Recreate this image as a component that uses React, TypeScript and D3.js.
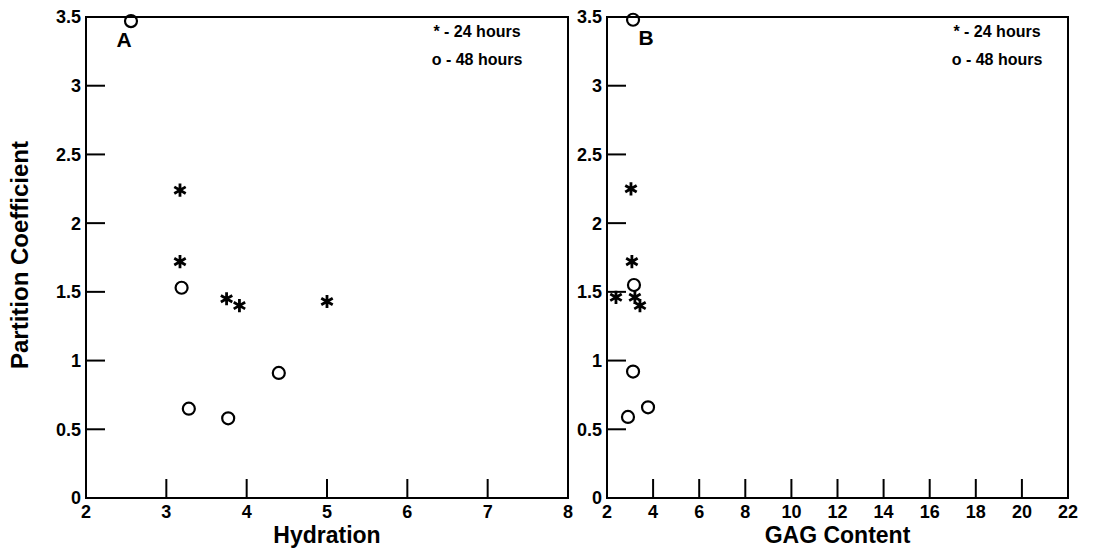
import React from "react";
import * as d3 from "d3";

// Panel A: Hydration vs Partition Coefficient
const hydration24 = [3.17, 3.17, 3.75, 3.91, 5.0];
const partition24A = [2.24, 1.72, 1.45, 1.40, 1.43];
const hydration48 = [2.56, 3.19, 3.28, 3.77, 4.4];
const partition48A = [3.47, 1.53, 0.65, 0.58, 0.91];

// Panel B: GAG Content vs Partition Coefficient
const gag24 = [3.04, 3.08, 2.39, 3.21, 3.43];
const partition24B = [2.25, 1.72, 1.46, 1.46, 1.40];
const gag48 = [3.13, 3.17, 3.13, 2.91, 3.78];
const partition48B = [3.48, 1.55, 0.92, 0.59, 0.66];

const yTicks = [0, 0.5, 1, 1.5, 2, 2.5, 3, 3.5];
const yTickLabels = ["0", "0.5", "1", "1.5", "2", "2.5", "3", "3.5"];
const xTicksA = [2, 3, 4, 5, 6, 7, 8];
const xTicksB = [2, 4, 6, 8, 10, 12, 14, 16, 18, 20, 22];

const legend24 = "* - 24 hours";
const legend48 = "o - 48 hours";
const yTitle = "Partition Coefficient";

const FONT = "'Liberation Sans', Arial, Helvetica, sans-serif";

const y = d3.scaleLinear().domain([0, 3.5]).range([498, 17]);

function Star({ cx, cy }: { cx: number; cy: number }) {
  const r = 6.6;
  const c = Math.cos(Math.PI / 6) * r;
  const s = Math.sin(Math.PI / 6) * r;
  const d = `M${cx},${cy - r}L${cx},${cy + r}M${cx - c},${cy - s}L${cx + c},${cy + s}M${cx - c},${cy + s}L${cx + c},${cy - s}`;
  return <path d={d} stroke="#000" strokeWidth={2.8} fill="none" />;
}

function Panel({
  xDomain, xRange, xTicks, title, letter, x24, y24, x48, y48, legendX, letterX, letterY,
}: any) {
  const x = d3.scaleLinear().domain(xDomain).range(xRange);
  const [x0, x1] = xRange;
  const yb = y(0);
  const yt = y(3.5);
  const tickLen = 19;
  return (
    <g>
      <rect x={x0} y={yt} width={x1 - x0} height={yb - yt} fill="none" stroke="#000" strokeWidth={2} />
      {yTicks.slice(1, -1).map((t) => (
        <line key={"yt" + t} x1={x0} x2={x0 + tickLen} y1={y(t)} y2={y(t)} stroke="#000" strokeWidth={2} />
      ))}
      {yTicks.map((t, i) => (
        <text key={"yl" + t} x={x0 - 5} y={y(t)} dy="0.36em" textAnchor="end" fontSize={18} fontWeight="bold" fontFamily={FONT}>
          {yTickLabels[i]}
        </text>
      ))}
      {xTicks.slice(1, -1).map((t: number) => (
        <line key={"xt" + t} x1={x(t)} x2={x(t)} y1={yb} y2={yb - tickLen} stroke="#000" strokeWidth={2} />
      ))}
      {xTicks.map((t: number) => (
        <text key={"xl" + t} x={x(t)} y={518} textAnchor="middle" fontSize={18} fontWeight="bold" fontFamily={FONT}>
          {t}
        </text>
      ))}
      <text x={(x0 + x1) / 2} y={543} textAnchor="middle" fontSize={23} fontWeight="bold" fontFamily={FONT}>
        {title}
      </text>
      <text x={letterX} y={letterY} textAnchor="middle" fontSize={21} fontWeight="bold" fontFamily={FONT}>
        {letter}
      </text>
      <text x={legendX} y={37} textAnchor="middle" fontSize={16} fontWeight="bold" fontFamily={FONT}>
        {legend24}
      </text>
      <text x={legendX} y={65} textAnchor="middle" fontSize={16} fontWeight="bold" fontFamily={FONT}>
        {legend48}
      </text>
      {x24.map((v: number, i: number) => (
        <Star key={"s" + i} cx={x(v)} cy={y(y24[i])} />
      ))}
      {x48.map((v: number, i: number) => (
        <circle key={"c" + i} cx={x(v)} cy={y(y48[i])} r={6} fill="none" stroke="#000" strokeWidth={2.2} />
      ))}
    </g>
  );
}

export default function App() {
  return (
    <svg width={1105} height={550} style={{ position: "absolute", left: 0, top: 0, background: "#fff" }}>
      <rect x={0} y={0} width={1105} height={550} fill="#fff" />
      <text transform="translate(28,255) rotate(-90)" textAnchor="middle" fontSize={24} fontWeight="bold" fontFamily={FONT}>
        {yTitle}
      </text>
      <Panel
        xDomain={[2, 8]} xRange={[86, 568]} xTicks={xTicksA} title="Hydration" letter="A"
        x24={hydration24} y24={partition24A} x48={hydration48} y48={partition48A}
        legendX={477} letterX={124} letterY={47}
      />
      <Panel
        xDomain={[2, 22]} xRange={[607, 1068]} xTicks={xTicksB} title="GAG Content" letter="B"
        x24={gag24} y24={partition24B} x48={gag48} y48={partition48B}
        legendX={997} letterX={646} letterY={45}
      />
    </svg>
  );
}
